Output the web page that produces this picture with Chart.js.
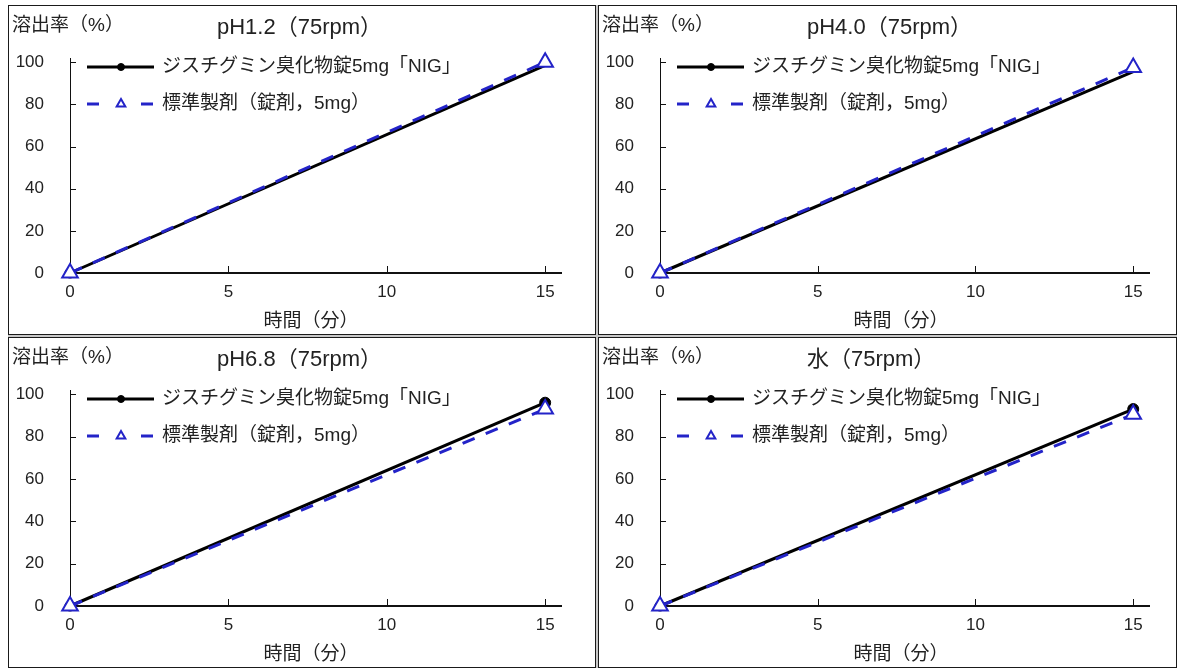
<!DOCTYPE html>
<html>
<head>
<meta charset="utf-8">
<script src="https://cdn.jsdelivr.net/npm/chart.js@4.4.1/dist/chart.umd.min.js"></script>
<style>
body{margin:0;background:#fff;}
#fondo{position:absolute;left:8px;top:5px;width:1169px;height:663px;background:#c8c8c8;}
.panel{position:absolute;border:1px solid #1a1a1a;background:#fff;}
.panel canvas{display:block;}
</style>
</head>
<body>
<div id="fondo"></div>
<div class="panel" style="left:8px;top:5px;width:586px;height:328px;"><canvas id="graf0" width="586" height="328"></canvas></div>
<div class="panel" style="left:598px;top:5px;width:577px;height:328px;"><canvas id="graf1" width="577" height="328"></canvas></div>
<div class="panel" style="left:8px;top:337px;width:586px;height:329px;"><canvas id="graf2" width="586" height="329"></canvas></div>
<div class="panel" style="left:598px;top:337px;width:577px;height:329px;"><canvas id="graf3" width="577" height="329"></canvas></div>
<script>
// datos
var tiempos = [0, 15];
var titulos = ['pH1.2（75rpm）', 'pH4.0（75rpm）', 'pH6.8（75rpm）', '水（75rpm）'];
var nombres = ['ジスチグミン臭化物錠5mg「NIG」', '標準製剤（錠剤，5mg）'];
var valoresTest = [[0, 98.5], [0, 95.5], [0, 96], [0, 93]];
var valoresRef = [[0, 100], [0, 97.5], [0, 93], [0, 90.5]];
var puntoFinal = [false, false, true, true];
var ticksX = [0, 5, 10, 15];
var ticksY = [0, 20, 40, 60, 80, 100];

var FUENTE = '"Liberation Sans", "Noto Sans CJK JP", sans-serif';
var AZUL = '#2323c8';

function toPoints(vals){
	var pts = new Array();
	for(var i = 0;i<vals.length;i++){
		pts.push({x: tiempos[i], y: vals[i]});
	}
	return pts;
}

var panelDeco = {
	id: 'panelDeco',
	beforeDatasetsDraw: function(chart){
		var ctx = chart.ctx, ca = chart.chartArea;
		var xs = chart.scales.x, ys = chart.scales.y;
		ctx.save();
		ctx.strokeStyle = '#111';
		ctx.lineWidth = 1;
		xs.ticks.forEach(function(t){
			var px = Math.round(xs.getPixelForValue(t.value)) + 0.5;
			ctx.beginPath(); ctx.moveTo(px, ca.bottom); ctx.lineTo(px, ca.bottom - 7); ctx.stroke();
		});
		ys.ticks.forEach(function(t){
			var py = Math.round(ys.getPixelForValue(t.value)) + 0.5;
			ctx.beginPath(); ctx.moveTo(ca.left, py); ctx.lineTo(ca.left + 6, py); ctx.stroke();
		});
		ctx.restore();
	},
	afterDatasetsDraw: function(chart){
		var o = chart.options.plugins.panelDeco;
		var ctx = chart.ctx, ca = chart.chartArea;
		ctx.save();
		ctx.fillStyle = '#222';
		ctx.textBaseline = 'middle';
		ctx.textAlign = 'left';
		ctx.font = '19px ' + FUENTE;
		ctx.fillText('溶出率（%）', 3, 20);
		ctx.font = '22px ' + FUENTE;
		ctx.fillText(o.titulo, 208, 22);
		ctx.font = '19px ' + FUENTE;
		ctx.textAlign = 'center';
		ctx.fillText('時間（分）', 302, ca.bottom + 49);
		// leyenda
		var dsets = chart.data.datasets;
		for(var i = 0;i<dsets.length;i++){
			var ds = dsets[i];
			var y = 61 + i*37;
			ctx.strokeStyle = ds.borderColor;
			ctx.lineWidth = ds.borderWidth;
			ctx.setLineDash(ds.legendDash || []);
			ctx.beginPath(); ctx.moveTo(78, y); ctx.lineTo(145, y); ctx.stroke();
			ctx.setLineDash([]);
			ctx.fillStyle = ds.pointBackgroundColor;
			ctx.strokeStyle = ds.pointBorderColor;
			ctx.lineWidth = ds.pointBorderWidth;
			ctx.beginPath();
			if(ds.pointStyle == 'circle'){
				ctx.arc(112, y, ds.legendRadius, 0, Math.PI*2);
			}else{
				var r = ds.legendRadius;
				ctx.moveTo(112, y - r); ctx.lineTo(112 + r*0.866, y + r*0.5); ctx.lineTo(112 - r*0.866, y + r*0.5); ctx.closePath();
			}
			ctx.fill(); ctx.stroke();
			ctx.fillStyle = '#222';
			ctx.textAlign = 'left';
			ctx.font = '19px ' + FUENTE;
			ctx.fillText(nombres[i], 153, y);
		}
		ctx.restore();
	}
};

function crearPanel(idx, padDer){
	var radioTest = [5, puntoFinal[idx] ? 5.5 : 0];
	new Chart(document.getElementById('graf' + idx), {
		type: 'line',
		data: {
			datasets: [{
				label: nombres[0],
				data: toPoints(valoresTest[idx]),
				borderColor: '#000',
				borderWidth: 3,
				pointStyle: 'circle',
				pointRadius: radioTest,
				pointBorderWidth: 1,
				pointBackgroundColor: '#000',
				pointBorderColor: '#000',
				legendRadius: 3.5,
				order: 1,
				clip: false
			}, {
				label: nombres[1],
				data: toPoints(valoresRef[idx]),
				borderColor: AZUL,
				borderWidth: 3,
				borderDash: [13, 12],
				legendDash: [12, 42],
				pointStyle: 'triangle',
				pointRadius: 9,
				pointBorderWidth: 2,
				pointBackgroundColor: '#fff',
				pointBorderColor: AZUL,
				legendRadius: 5,
				order: 0,
				clip: false
			}]
		},
		options: {
			responsive: false,
			animation: false,
			events: [],
			layout: { padding: { top: 52, right: padDer, left: 0, bottom: 0 } },
			plugins: {
				legend: { display: false },
				tooltip: { enabled: false },
				panelDeco: { titulo: titulos[idx] }
			},
			scales: {
				x: {
					type: 'linear', min: 0, max: 15.5,
					grid: { display: false, drawTicks: false },
					border: { display: true, color: '#111', width: 2 },
					afterBuildTicks: function(s){ s.ticks = ticksX.map(function(v){ return {value: v}; }); },
					ticks: { padding: 9, color: '#222', maxRotation: 0, autoSkip: false, font: { size: 17, family: FUENTE } },
					afterFit: function(s){ s.height = 61; }
				},
				y: {
					min: 0, max: 102,
					grid: { display: false, drawTicks: false },
					border: { display: true, color: '#111', width: 1 },
					afterBuildTicks: function(s){ s.ticks = ticksY.map(function(v){ return {value: v}; }); },
					ticks: { padding: 26, color: '#222', font: { size: 17, family: FUENTE } },
					afterFit: function(s){ s.width = 61; }
				}
			}
		},
		plugins: [panelDeco]
	});
}

crearPanel(0, 34);
crearPanel(1, 27);
crearPanel(2, 34);
crearPanel(3, 27);
</script>
</body>
</html>
